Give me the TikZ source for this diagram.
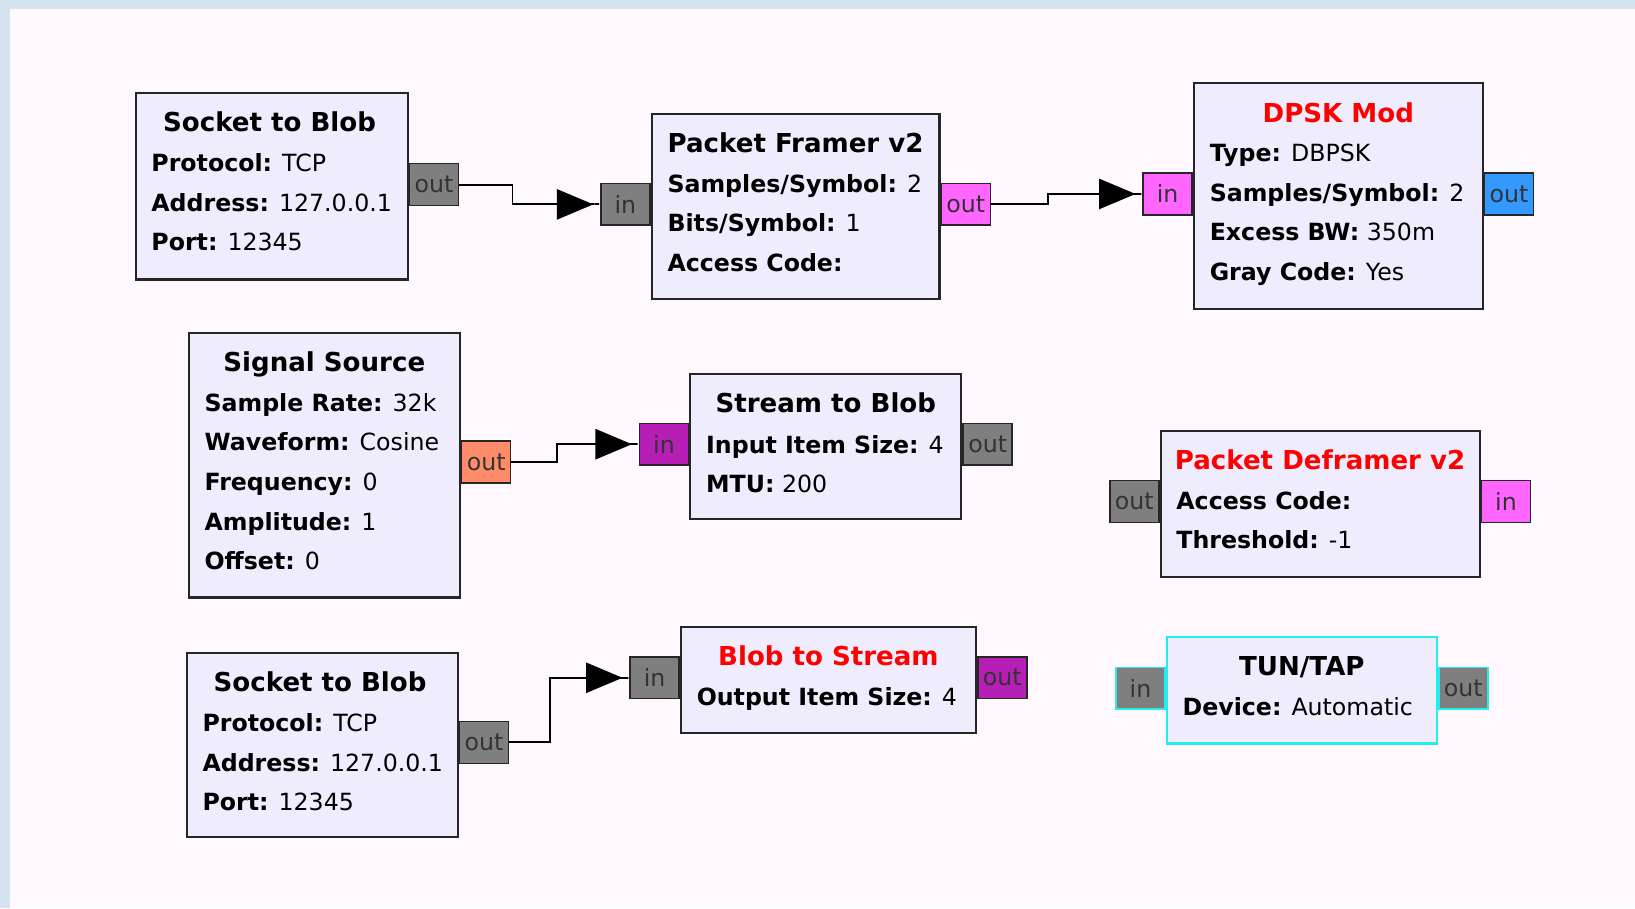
\documentclass[tikz,border=0pt]{standalone}
\usepackage{fontspec}
\setmainfont{DejaVu Sans}
\usepackage{tikz}
\usetikzlibrary{positioning, arrows.meta}
\usepackage{xcolor}
\definecolor{canvas}{HTML}{FFF8FE}
\definecolor{frameblue}{HTML}{D5E2F0}
\definecolor{blockfill}{HTML}{EFEDFD}
\definecolor{bytepink}{HTML}{FF66FF}
\definecolor{bytepurple}{HTML}{B61FB6}
\definecolor{floatorange}{HTML}{FF8C69}
\definecolor{complexblue}{HTML}{3399FF}
\definecolor{msggray}{HTML}{7F7F7F}
\definecolor{tuncyan}{HTML}{22EEF0}
\newcommand{\prm}[2]{\textbf{#1:} #2}

\begin{document}
\begin{tikzpicture}[
  x=1pt, y=-1pt,
  font=\fontsize{22.7}{38}\selectfont,
  blk/.style={rectangle, draw=black!85, line width=2pt, fill=blockfill, anchor=north west, inner sep=0pt},
  ttl/.style={anchor=base, font=\fontsize{25}{38}\selectfont\bfseries},
  prms/.style={anchor=north west, align=left, inner sep=0pt},
  port/.style={rectangle, draw=black!85, line width=1.5pt, minimum width=47pt, minimum height=40pt, inner sep=0pt, text=black!80},
  conn/.style={line width=1.9pt, -{Triangle[length=35pt,width=29pt,sep=0pt]Rectangle[length=6.5pt,width=1.9pt,sep=0pt]}}
]
% canvas and window edges
\fill[canvas] (0,0) rectangle (1568,871);
\fill[frameblue] (0,0) rectangle (1568,8.6);
\fill[frameblue] (0,0) rectangle (9.6,871);
\useasboundingbox (0,0) rectangle (1568,871);

% ----- top row -----
\node[blk, minimum width=261pt, minimum height=179pt] (sockA) at (129,88) {};
\node[ttl] (sockA-t) at ([xshift=-2pt,yshift=-38pt]sockA.north) {Socket to Blob};
\node[prms] (sockA-p) at ([xshift=16pt,yshift=-59pt]sockA.north west) {\prm{Protocol}{TCP}\\\prm{Address}{127.0.0.1}\\\prm{Port}{12345}};
\node[port, fill=msggray, anchor=west] (sockA-out) at ([yshift=-89pt]sockA.north east) {out};

\node[blk, minimum width=276pt, minimum height=178pt] (framer) at (624,108) {};
\node[ttl] (framer-t) at ([yshift=-38pt]framer.north) {Packet Framer v2};
\node[prms] (framer-p) at ([xshift=16pt,yshift=-59pt]framer.north west) {\prm{Samples/Symbol}{2}\\\prm{Bits/Symbol}{1}\\\prm{Access Code}{}};
\node[port, fill=msggray, anchor=east] (framer-in) at ([yshift=-88pt]framer.north west) {in};
\node[port, fill=bytepink, anchor=west] (framer-out) at ([yshift=-88pt]framer.north east) {out};

\node[blk, minimum width=277pt, minimum height=216pt] (dpsk) at (1144,79) {};
\node[ttl, text=red] (dpsk-t) at ([yshift=-38pt]dpsk.north) {DPSK Mod};
\node[prms] (dpsk-p) at ([xshift=16pt,yshift=-59pt]dpsk.north west) {\prm{Type}{DBPSK}\\\prm{Samples/Symbol}{2}\\\prm{Excess BW}{350m}\\\prm{Gray Code}{Yes}};
\node[port, fill=bytepink, anchor=east] (dpsk-in) at ([yshift=-107pt]dpsk.north west) {in};
\node[port, fill=complexblue, anchor=west] (dpsk-out) at ([yshift=-107pt]dpsk.north east) {out};

% ----- middle row -----
\node[blk, minimum width=260pt, minimum height=254pt] (sigsrc) at (180,318) {};
\node[ttl] (sigsrc-t) at ([yshift=-38pt]sigsrc.north) {Signal Source};
\node[prms] (sigsrc-p) at ([xshift=16pt,yshift=-59pt]sigsrc.north west) {\prm{Sample Rate}{32k}\\\prm{Waveform}{Cosine}\\\prm{Frequency}{0}\\\prm{Amplitude}{1}\\\prm{Offset}{0}};
\node[port, fill=floatorange, anchor=west] (sigsrc-out) at ([yshift=-125pt]sigsrc.north east) {out};

\node[blk, minimum width=260pt, minimum height=139pt] (s2blob) at (661,358) {};
\node[ttl] (s2blob-t) at ([yshift=-38pt]s2blob.north) {Stream to Blob};
\node[prms] (s2blob-p) at ([xshift=16pt,yshift=-59pt]s2blob.north west) {\prm{Input Item Size}{4}\\\prm{MTU}{200}};
\node[port, fill=bytepurple, anchor=east] (s2blob-in) at ([yshift=-68pt]s2blob.north west) {in};
\node[port, fill=msggray, anchor=west] (s2blob-out) at ([yshift=-68pt]s2blob.north east) {out};

\node[blk, minimum width=306pt, minimum height=140pt] (deframer) at (1112,412) {};
\node[ttl, text=red] (deframer-t) at ([yshift=-38pt]deframer.north) {Packet Deframer v2};
\node[prms] (deframer-p) at ([xshift=16pt,yshift=-59pt]deframer.north west) {\prm{Access Code}{}\\\prm{Threshold}{-1}};
\node[port, fill=msggray, anchor=east] (deframer-out) at ([yshift=-69pt]deframer.north west) {out};
\node[port, fill=bytepink, anchor=west] (deframer-in) at ([yshift=-69pt]deframer.north east) {in};

% ----- bottom row -----
\node[blk, minimum width=260pt, minimum height=177pt] (sockB) at (178,625) {};
\node[ttl] (sockB-t) at ([xshift=-2pt,yshift=-38pt]sockB.north) {Socket to Blob};
\node[prms] (sockB-p) at ([xshift=16pt,yshift=-59pt]sockB.north west) {\prm{Protocol}{TCP}\\\prm{Address}{127.0.0.1}\\\prm{Port}{12345}};
\node[port, fill=msggray, anchor=west] (sockB-out) at ([yshift=-87pt]sockB.north east) {out};

\node[blk, minimum width=283pt, minimum height=102pt] (b2s) at (652,600) {};
\node[ttl, text=red] (b2s-t) at ([yshift=-38pt]b2s.north) {Blob to Stream};
\node[prms] (b2s-p) at ([xshift=16pt,yshift=-59pt]b2s.north west) {\prm{Output Item Size}{4}};
\node[port, fill=msggray, anchor=east] (b2s-in) at ([yshift=-50pt]b2s.north west) {in};
\node[port, fill=bytepurple, anchor=west] (b2s-out) at ([yshift=-50pt]b2s.north east) {out};

\node[blk, draw=tuncyan, minimum width=259pt, minimum height=102pt] (tuntap) at (1118,610) {};
\node[ttl] (tuntap-t) at ([yshift=-38pt]tuntap.north) {TUN/TAP};
\node[prms] (tuntap-p) at ([xshift=16pt,yshift=-59pt]tuntap.north west) {\prm{Device}{Automatic}};
\node[port, fill=msggray, draw=tuncyan, anchor=east] (tuntap-in) at ([yshift=-50pt]tuntap.north west) {in};
\node[port, fill=msggray, draw=tuncyan, anchor=west] (tuntap-out) at ([yshift=-50pt]tuntap.north east) {out};

% connections
\draw[conn] (sockA-out.east) -- ++(51,0) |- (framer-in.west);
\draw[conn] (framer-out.east) -- ++(55,0) |- (dpsk-in.west);
\draw[conn] (sigsrc-out.east) -- ++(44,0) |- (s2blob-in.west);
\draw[conn] (sockB-out.east) -- ++(39,0) |- (b2s-in.west);
\end{tikzpicture}
\end{document}
